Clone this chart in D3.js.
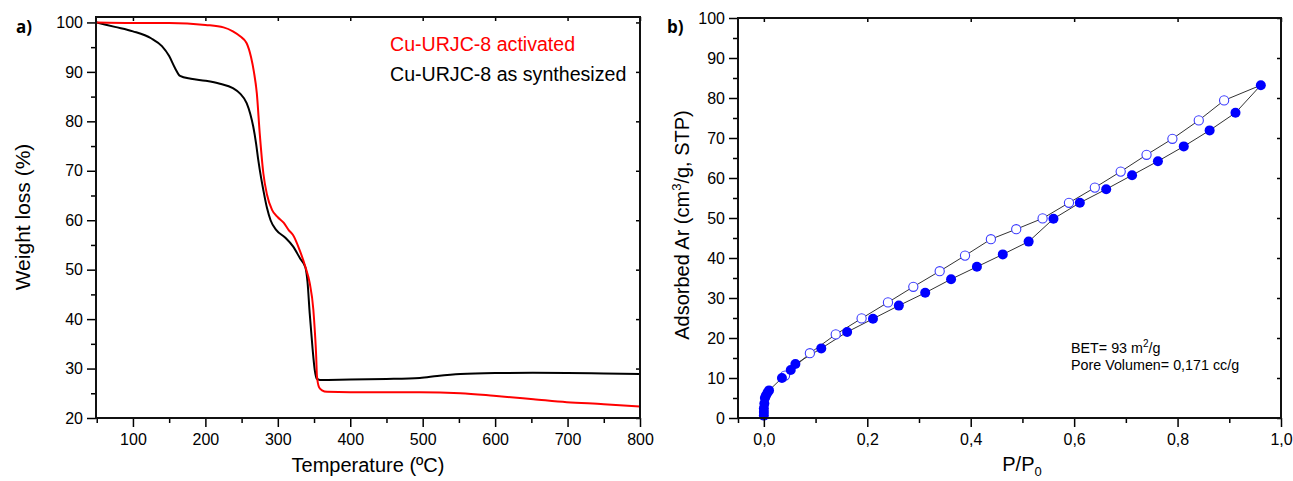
<!DOCTYPE html>
<html>
<head>
<meta charset="utf-8">
<script src="https://cdn.jsdelivr.net/npm/d3@7"></script>
<style>
  body { margin: 0; background: #fff; }
  svg { font-family: "Liberation Sans", Arial, sans-serif; }
  .axis path, .axis line { stroke: #000; }
  .axis text { font-size: 16px; fill: #000; }
</style>
</head>
<body>
<svg id="chart" width="1293" height="481"></svg>
<script>
// panel a) TGA, temperature (C) and weight (%)
var tgaActivatedT = [50, 100, 150, 200, 225, 238, 248, 257, 263, 267, 271, 275, 280, 285, 292, 300, 308, 315, 321, 330, 338, 344, 349, 351, 353, 354, 357, 361, 368, 400, 450, 496, 552, 598, 653, 699, 750, 800];
var tgaActivatedW = [100, 99.9, 99.9, 99.5, 99.0, 98.2, 97.2, 95.8, 93, 90, 85.7, 77.6, 69.5, 65.2, 62.1, 60.6, 59.5, 58, 57, 54, 50.6, 47.3, 42, 37.8, 32.4, 28.5, 26.2, 25.6, 25.3, 25.2, 25.2, 25.2, 25.0, 24.5, 23.8, 23.2, 22.8, 22.3];
var tgaSynthT = [50, 75, 100, 125, 140, 150, 158, 165, 180, 200, 220, 238, 248, 257, 262, 266, 270, 273, 277, 280, 285, 290, 298, 310, 321, 331, 338, 341, 344, 348, 351, 354, 358, 400, 450, 496, 520, 552, 600, 652, 700, 750, 800];
var tgaSynthW = [100, 99.1, 98.2, 96.8, 95.2, 93.2, 90.8, 89.2, 88.6, 88.2, 87.6, 86.7, 85.6, 83.7, 81.5, 79, 75.5, 72.2, 68.5, 66.1, 62.5, 60, 58, 56.5, 54.7, 52.2, 50.5, 47.5, 41.2, 34, 29.7, 27.9, 27.7, 27.8, 27.9, 28.1, 28.5, 28.9, 29.1, 29.15, 29.1, 29.0, 28.9];
var tgaLegend = ["Cu-URJC-8 activated", "Cu-URJC-8 as synthesized"];

// panel b) Ar isotherm, P/P0 and adsorbed volume
var adsP = [0, 0, 0, 0.001, 0.002, 0.004, 0.007, 0.010, 0.035, 0.052, 0.061, 0.111, 0.161, 0.211, 0.261, 0.312, 0.362, 0.412, 0.462, 0.512, 0.560, 0.611, 0.662, 0.712, 0.762, 0.812, 0.862, 0.912, 0.961];
var adsV = [0.6, 1.5, 2.4, 3.6, 5.0, 5.6, 6.3, 6.9, 10.0, 12.0, 13.5, 17.4, 21.5, 24.8, 28.1, 31.3, 34.7, 37.8, 40.9, 44.1, 49.8, 53.8, 57.2, 60.7, 64.2, 67.9, 71.9, 76.3, 83.2];
var desP = [0.890, 0.841, 0.790, 0.740, 0.690, 0.640, 0.590, 0.539, 0.488, 0.439, 0.389, 0.340, 0.289, 0.240, 0.189, 0.139, 0.089, 0.041];
var desV = [79.4, 74.4, 69.8, 65.8, 61.6, 57.6, 53.8, 49.9, 47.2, 44.7, 40.6, 36.7, 32.8, 28.9, 24.9, 20.9, 16.2, 10.6];

var svg = d3.select("#chart");

function zip(xs, ys) {
    return xs.map(function (x, i) { return [x, ys[i]]; });
}

// draw a framed axes box with outward major/minor ticks on bottom and left
function frame(g, x, y, xMajor, xMinor, yMajor, yMinor, fmt) {
    var w = x.range()[1], h = y.range()[0];
    g.append("g").attr("class", "axis").attr("transform", "translate(0," + h + ")")
        .call(d3.axisBottom(x).tickValues(xMinor).tickSize(5).tickFormat("").tickSizeOuter(0));
    g.append("g").attr("class", "axis").attr("transform", "translate(0," + h + ")")
        .call(d3.axisBottom(x).tickValues(xMajor).tickSize(9).tickPadding(7).tickFormat(fmt).tickSizeOuter(0));
    g.append("g").attr("class", "axis")
        .call(d3.axisLeft(y).tickValues(yMinor).tickSize(5).tickFormat("").tickSizeOuter(0));
    g.append("g").attr("class", "axis")
        .call(d3.axisLeft(y).tickValues(yMajor).tickSize(9).tickPadding(4).tickSizeOuter(0));
    // mirrored ticks inside on top and right
    g.append("g").attr("class", "axis")
        .call(d3.axisTop(x).tickValues(xMajor).tickSize(-4).tickFormat("").tickSizeOuter(0));
    g.append("g").attr("class", "axis").attr("transform", "translate(" + w + ",0)")
        .call(d3.axisRight(y).tickValues(yMajor).tickSize(-4).tickFormat("").tickSizeOuter(0));
    g.selectAll(".axis line").attr("stroke-width", 1.5);
    g.selectAll(".axis path").remove();
    g.append("rect").attr("width", w).attr("height", h)
        .attr("fill", "none").attr("stroke", "#111").attr("stroke-width", 2);
}

// ---------- panel a ----------
var ga = svg.append("g").attr("transform", "translate(96,17)");
var xa = d3.scaleLinear().domain([49, 800]).range([0, 544]);
var ya = d3.scaleLinear().domain([20, 101.1]).range([401, 0]);

var lineA = d3.line().x(function (d) { return xa(d[0]); }).y(function (d) { return ya(d[1]); })
    .curve(d3.curveMonotoneX);

ga.append("path").datum(zip(tgaSynthT, tgaSynthW))
    .attr("d", lineA).attr("fill", "none").attr("stroke", "#000").attr("stroke-width", 2);
ga.append("path").datum(zip(tgaActivatedT, tgaActivatedW))
    .attr("d", lineA).attr("fill", "none").attr("stroke", "#ff0000").attr("stroke-width", 2);

frame(ga, xa, ya,
    d3.range(100, 801, 100), d3.range(50, 800, 100),
    d3.range(20, 101, 10), d3.range(25, 100, 10),
    d3.format("d"));

ga.append("text").attr("x", 294).attr("y", 34).attr("font-size", 19.6).attr("fill", "#ff0000").text(tgaLegend[0]);
ga.append("text").attr("x", 294).attr("y", 64).attr("font-size", 19.6).attr("fill", "#000").text(tgaLegend[1]);

svg.append("text").attr("x", 16).attr("y", 33).attr("font-size", 17).attr("font-weight", "bold")
    .attr("font-family", "Open Sans, sans-serif").text("a)");
svg.append("text").attr("transform", "translate(30,217) rotate(-90)").attr("text-anchor", "middle")
    .attr("font-size", 21).text("Weight loss (%)");
svg.append("text").attr("x", 368).attr("y", 472).attr("text-anchor", "middle")
    .attr("font-size", 20).text("Temperature (ºC)");

// ---------- panel b ----------
var gb = svg.append("g").attr("transform", "translate(738,18)");
var xb = d3.scaleLinear().domain([-0.05, 1.0]).range([0, 543]);
var yb = d3.scaleLinear().domain([0, 100]).range([400, 0]);

var lineB = d3.line().x(function (d) { return xb(d[0]); }).y(function (d) { return yb(d[1]); });
var ads = zip(adsP, adsV);
var des = [ads[ads.length - 1]].concat(zip(desP, desV));

gb.append("path").datum(ads).attr("d", lineB).attr("fill", "none").attr("stroke", "#333").attr("stroke-width", 1);
gb.append("path").datum(des).attr("d", lineB).attr("fill", "none").attr("stroke", "#333").attr("stroke-width", 1);

gb.selectAll("circle.des").data(zip(desP, desV)).enter().append("circle")
    .attr("class", "des")
    .attr("cx", function (d) { return xb(d[0]); })
    .attr("cy", function (d) { return yb(d[1]); })
    .attr("r", 4.6).attr("fill", "#fff").attr("stroke", "#3b3bff").attr("stroke-width", 1.1);
gb.selectAll("circle.ads").data(ads).enter().append("circle")
    .attr("class", "ads")
    .attr("cx", function (d) { return xb(d[0]); })
    .attr("cy", function (d) { return yb(d[1]); })
    .attr("r", 5).attr("fill", "#0000ff");

frame(gb, xb, yb,
    d3.range(0, 1.01, 0.2), [-0.05, 0.1, 0.3, 0.5, 0.7, 0.9],
    d3.range(0, 101, 10), d3.range(5, 100, 10),
    function (d) { return d3.format(".1f")(d).replace(".", ","); });

gb.append("text").attr("x", 333).attr("y", 335).attr("font-size", 14.3)
    .html('BET= 93 m<tspan dy="-6" font-size="10">2</tspan><tspan dy="6">/g</tspan>');
gb.append("text").attr("x", 333).attr("y", 352).attr("font-size", 14.3).text("Pore Volumen= 0,171 cc/g");

svg.append("text").attr("x", 667).attr("y", 33).attr("font-size", 17).attr("font-weight", "bold")
    .attr("font-family", "Open Sans, sans-serif").text("b)");
svg.append("text").attr("transform", "translate(689,225) rotate(-90)").attr("text-anchor", "middle")
    .attr("font-size", 20)
    .html('Adsorbed Ar (cm<tspan dy="-8" font-size="13">3</tspan><tspan dy="8">/g, STP)</tspan>');
svg.append("text").attr("x", 1022).attr("y", 471).attr("text-anchor", "middle").attr("font-size", 20)
    .html('P/P<tspan dy="5" font-size="13">0</tspan>');
</script>
</body>
</html>
